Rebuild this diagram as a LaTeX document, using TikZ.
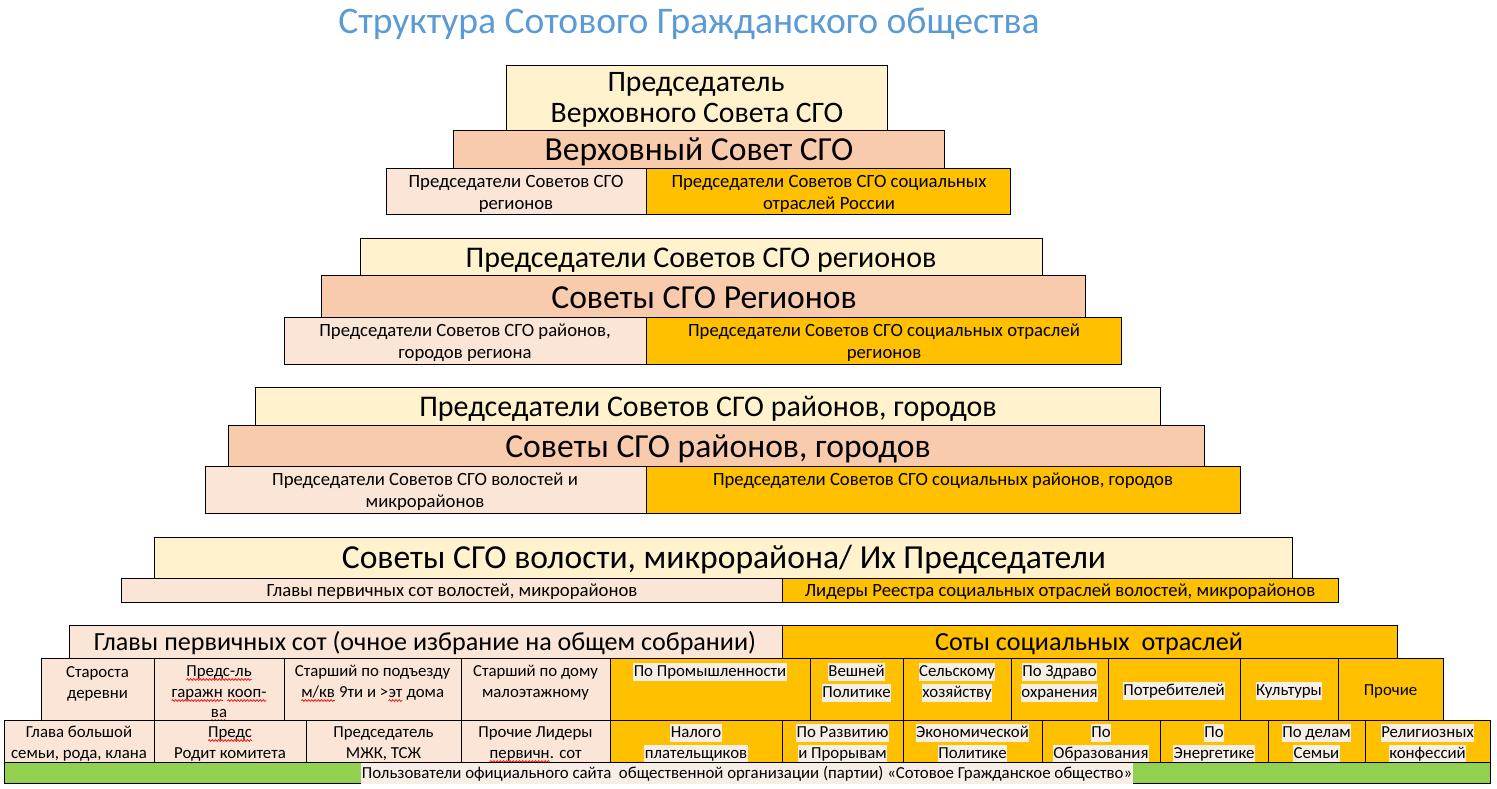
\documentclass[tikz,border=0pt]{standalone}
\usepackage{fontspec}
\setmainfont{Carlito}
\usetikzlibrary{decorations.pathmorphing}
\definecolor{cy}{HTML}{FFF2CC}
\definecolor{cs}{HTML}{F8CBAD}
\definecolor{cp}{HTML}{FBE5D6}
\definecolor{co}{HTML}{FFC000}
\definecolor{cg}{HTML}{92D050}
\definecolor{hl}{HTML}{F7EEE6}
\definecolor{tb}{HTML}{5B9BD5}
\newcommand\bx[6]{\node[cell,fill=#6,minimum width=#4-#2,minimum height=#5-#3,anchor=north west] (#1) at (#2,#3) {};}
\newcommand\rw[1]{\tikz[baseline=(sqw.base)]{\node[inner sep=0pt,outer sep=0pt] (sqw) {#1};\draw[red,line width=0.7pt,decorate,decoration={snake,amplitude=0.9pt,segment length=3.2pt}] ([yshift=-3.5pt]sqw.base west) -- ([yshift=-3.5pt]sqw.base east);}}
\begin{document}
\begin{tikzpicture}[x=1pt,y=-1pt,
  cell/.style={draw=black,line width=0.9pt,inner sep=0pt,outer sep=0pt},
  t/.style={anchor=base,inner sep=0pt},
  hlt/.style={t,fill=hl,inner xsep=0.5pt,text height=13pt,text depth=5pt},
  hlg/.style={t,fill=hl,inner xsep=0.5pt,text height=15pt,text depth=6pt},
  fT/.style={font=\fontsize{37.6}{40}\selectfont,text=tb},
  fA/.style={font=\fontsize{29.7}{32}\selectfont},
  fB/.style={font=\fontsize{33.6}{35}\selectfont},
  fC/.style={font=\fontsize{30}{32}\selectfont},
  fS/.style={font=\fontsize{18.7}{20}\selectfont},
  fF/.style={font=\fontsize{26.1}{28}\selectfont},
  fG/.style={font=\fontsize{16.8}{19}\selectfont}
]
\useasboundingbox (0,0) rectangle (1497,788);
\node[t,fT] (title) at (689,33.5) {Структура Сотового Гражданского общества};
% level 1
\bx{b1}{506}{65}{887}{130}{cy}
\bx{b2}{453}{130}{944}{168}{cs}
\bx{b3a}{386}{168}{646}{214}{cp}
\bx{b3b}{646}{168}{1010}{214}{co}
\node[t,fA] (b1t1) at (696,91) {Председатель};
\node[t,fA] (b1t2) at (697,122) {Верховного Совета СГО};
\node[t,fB] (b2t) at (699,160.5) {Верховный Совет СГО};
\node[t,fS] (b3at1) at (516,187) {Председатели Советов СГО};
\node[t,fS] (b3at2) at (516,209) {регионов};
\node[t,fS] (b3bt1) at (829,187) {Председатели Советов СГО социальных};
\node[t,fS] (b3bt2) at (829,209) {отраслей России};
% level 2
\bx{c1}{360}{238}{1042}{275}{cy}
\bx{c2}{321}{275}{1085}{317}{cs}
\bx{c3a}{284}{317}{646}{364}{cp}
\bx{c3b}{646}{317}{1121}{364}{co}
\node[t,fC] (c1t) at (701,267) {Председатели Советов СГО регионов};
\node[t,fB] (c2t) at (704,308) {Советы СГО Регионов};
\node[t,fS] (c3at1) at (465,336) {Председатели Советов СГО районов,};
\node[t,fS] (c3at2) at (465,358) {городов региона};
\node[t,fS] (c3bt1) at (884,336) {Председатели Советов СГО социальных отраслей};
\node[t,fS] (c3bt2) at (884,358) {регионов};
% level 3
\bx{d1}{255}{387}{1160}{425}{cy}
\bx{d2}{228}{425}{1204}{466}{cs}
\bx{d3a}{205}{466}{646}{513}{cp}
\bx{d3b}{646}{466}{1240}{513}{co}
\node[t,fC] (d1t) at (708,416) {Председатели Советов СГО районов, городов};
\node[t,fB] (d2t) at (718,457) {Советы СГО районов, городов};
\node[t,fS] (d3at1) at (425,485) {Председатели Советов СГО волостей и};
\node[t,fS] (d3at2) at (425,507) {микрорайонов};
\node[t,fS] (d3bt) at (943,485) {Председатели Советов СГО социальных районов, городов};
% level 4
\bx{e1}{154}{537}{1292}{578}{cy}
\bx{e2a}{121}{578}{782}{602}{cp}
\bx{e2b}{782}{578}{1338}{602}{co}
\node[t,fB] (e1t) at (724,568) {Советы СГО волости, микрорайона/ Их Председатели};
\node[t,fS] (e2at) at (452,596) {Главы первичных сот волостей, микрорайонов};
\node[t,fS] (e2bt) at (1060,596) {Лидеры Реестра социальных отраслей волостей, микрорайонов};
% level 5
\bx{f1a}{69}{625}{782}{658}{cp}
\bx{f1b}{782}{625}{1397}{658}{co}
\node[t,fF] (f1at) at (425,650) {Главы первичных сот (очное избрание на общем собрании)};
\node[t,fF] (f1bt) at (1089,650) {Соты социальных~ отраслей};
% row G
\bx{g1}{41}{658}{154}{720}{cp}
\bx{g2}{154}{658}{284}{720}{cp}
\bx{g3}{284}{658}{461}{720}{cp}
\bx{g4}{461}{658}{610}{720}{cp}
\bx{g5}{610}{658}{810}{720}{co}
\bx{g6}{810}{658}{903}{720}{co}
\bx{g7}{903}{658}{1011}{720}{co}
\bx{g8}{1011}{658}{1108}{720}{co}
\bx{g9}{1108}{658}{1240}{720}{co}
\bx{g10}{1240}{658}{1338}{720}{co}
\bx{g11}{1338}{658}{1443}{720}{co}
\node[t,fG] (g1t1) at (97.5,677) {Староста};
\node[t,fG] (g1t2) at (97.5,698) {деревни};
\node[t,fG] (g2t1) at (219,676) {\rw{Предс-ль}};
\node[t,fG] (g2t2) at (219,697) {\rw{гаражн} \rw{кооп-}};
\node[t,fG] (g2t3) at (219,717) {\rw{ва}};
\node[t,fG] (g3t1) at (372.5,676) {Старший по подъезду};
\node[t,fG] (g3t2) at (372.5,697) {\rw{м/кв} 9ти и >\rw{эт} дома};
\node[t,fG] (g4t1) at (535.5,676) {Старший по дому};
\node[t,fG] (g4t2) at (535.5,697) {малоэтажному};
\node[hlt,fG] (g5t) at (710,676) {По Промышленности};
\node[hlt,fG] (g6t1) at (856.5,676) {Вешней};
\node[hlt,fG] (g6t2) at (856.5,697) {Политике};
\node[hlt,fG] (g7t1) at (957,676) {Сельскому};
\node[hlt,fG] (g7t2) at (957,697) {хозяйству};
\node[hlt,fG] (g8t1) at (1059.5,676) {По Здраво};
\node[hlt,fG] (g8t2) at (1059.5,697) {охранения};
\node[hlt,fG] (g9t) at (1174,695) {Потребителей};
\node[hlt,fG] (g10t) at (1289,695) {Культуры};
\node[t,fG] (g11t) at (1390.5,695) {Прочие};
% row H
\bx{h1}{4}{720}{154}{762}{cp}
\bx{h2}{154}{720}{306}{762}{cp}
\bx{h3}{306}{720}{461}{762}{cp}
\bx{h4}{461}{720}{610}{762}{cp}
\bx{h5}{610}{720}{782}{762}{co}
\bx{h6}{782}{720}{903}{762}{co}
\bx{h7}{903}{720}{1042}{762}{co}
\bx{h8}{1042}{720}{1160}{762}{co}
\bx{h9}{1160}{720}{1268}{762}{co}
\bx{h10}{1268}{720}{1365}{762}{co}
\bx{h11}{1365}{720}{1490}{762}{co}
\node[t,fG] (h1t1) at (79,737) {Глава большой};
\node[t,fG] (h1t2) at (79,758) {семьи, рода, клана};
\node[t,fG] (h2t1) at (230,737) {\rw{Предс}};
\node[t,fG] (h2t2) at (230,758) {Родит комитета};
\node[t,fG] (h3t1) at (383.5,737) {Председатель};
\node[t,fG] (h3t2) at (383.5,758) {МЖК, ТСЖ};
\node[t,fG] (h4t1) at (535.5,737) {Прочие Лидеры};
\node[t,fG] (h4t2) at (535.5,758) {\rw{первичн}. сот};
\node[hlt,fG] (h5t1) at (696,737) {Налого};
\node[hlt,fG] (h5t2) at (696,758) {плательщиков};
\node[hlt,fG] (h6t1) at (842.5,737) {По Развитию};
\node[hlt,fG] (h6t2) at (842.5,758) {и Прорывам};
\node[hlt,fG] (h7t1) at (972.5,737) {Экономической};
\node[hlt,fG] (h7t2) at (972.5,758) {Политике};
\node[hlt,fG] (h8t1) at (1101,737) {По};
\node[hlt,fG] (h8t2) at (1101,758) {Образования};
\node[hlt,fG] (h9t1) at (1214,737) {По};
\node[hlt,fG] (h9t2) at (1214,758) {Энергетике};
\node[hlt,fG] (h10t1) at (1316.5,737) {По делам};
\node[hlt,fG] (h10t2) at (1316.5,758) {Семьи};
\node[hlt,fG] (h11t1) at (1427.5,737) {Религиозных};
\node[hlt,fG] (h11t2) at (1427.5,758) {конфессий};
% green row
\bx{gr}{4}{762}{1490}{783}{cg}
\node[hlg,fG] (grt) at (747,778) {Пользователи официального сайта~ общественной организации (партии) «Сотовое Гражданское общество»};
\end{tikzpicture}
\end{document}
